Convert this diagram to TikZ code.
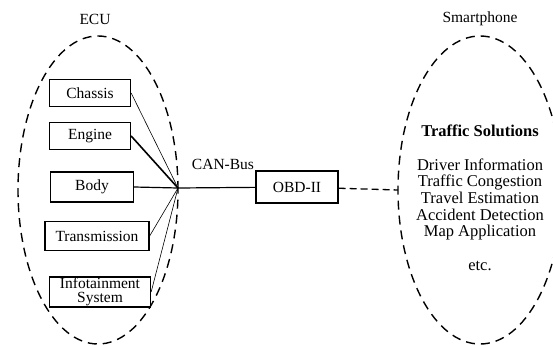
\documentclass[tikz,border=0pt]{standalone}
\usepackage{fontspec}
\setmainfont{Liberation Serif}
\usetikzlibrary{positioning,shapes.geometric}

\begin{document}
\begin{tikzpicture}[
            x=1pt, y=-1pt,
            font=\fontsize{15.5}{16.7}\selectfont,
            group/.style={
                draw,
                ellipse,
                dash pattern=on 9pt off 6pt,
                line width=1.4pt,
                inner sep=0pt,
                outer sep=0pt,
                minimum height=308pt
            },
            unit/.style={
                draw,
                line width=1.3pt,
                align=center,
                inner sep=1pt,
                minimum height=27pt
            },
            wire/.style={line width=0.6pt}
        ]

        \useasboundingbox (0,0) rectangle (553,345);

        % ECU side
        \node[group, minimum width=160pt] (ecu) at (98,190) {};
        \node (ecutitle) at (95,19) {ECU};

        \node[unit, minimum width=81pt] (chassis) at (90,93) {Chassis};
        \node[unit, minimum width=81pt] (engine) at (90,136) {Engine};
        \node[unit, minimum width=83pt, minimum height=30pt] (body) at (92,187) {Body};
        \node[unit, minimum width=104pt, minimum height=29pt] (trans) at (97,236) {Transmission};
        \node[unit, minimum width=101pt, minimum height=30pt, inner sep=0pt,
              font=\fontsize{15.5}{14}\selectfont] (info) at (100,292) {Infotainment\\System};

        \coordinate (bus) at (178,188);

        \draw[wire] (chassis.east) -- (bus);
        \draw[line width=1.6pt] (engine.east) -- (bus);
        \draw[line width=1.2pt] (body.east) -- (bus);
        \draw[wire] (trans.east) -- (bus);
        \draw[wire] (info.east) -- (bus);

        \node[unit, minimum width=82pt, minimum height=32pt] (obd) at (297,187) {OBD-II};
        \node (canbus) at (223,164) {CAN-Bus};
        \draw[line width=1.2pt] (bus) -- (obd);

        % smartphone side
        \node[group, minimum width=164pt] (phone) at (480,190) {};
        \node (phonetitle) at (480,19) {Smartphone};
        \draw[line width=1.3pt, dash pattern=on 7pt off 4pt] (obd) -- (phone.west);

        \node[font=\fontsize{16.5}{16.7}\selectfont\bfseries] (solutions) at (480,131) {Traffic Solutions};
        \node[align=center, anchor=north, font=\fontsize{16.5}{16.7}\selectfont] (apps) at (480,155)
            {Driver Information\\Traffic Congestion\\Travel Estimation\\Accident Detection\\Map Application\\[16.7pt]etc.};

        \end{tikzpicture}
\end{document}
